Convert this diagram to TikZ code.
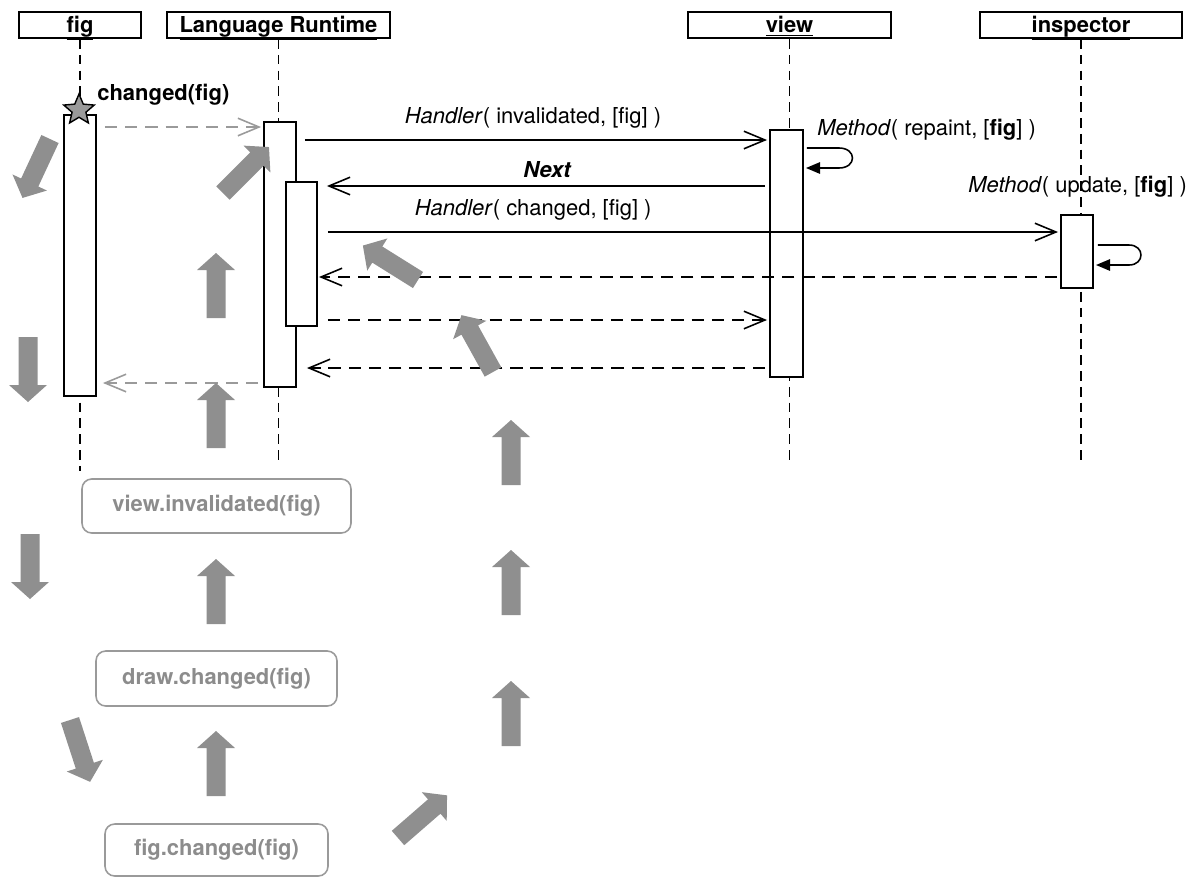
\documentclass[tikz,border=0pt]{standalone}
\usepackage{fontspec}
\setmainfont{TeX Gyre Heros}
\usetikzlibrary{arrows.meta}
\usetikzlibrary{shapes.geometric}

\definecolor{flowgray}{HTML}{8F8F8F}
\definecolor{retgray}{HTML}{9A9A9A}
\definecolor{notegray}{HTML}{8C8C8C}

\begin{document}
\begin{tikzpicture}[x=0.02cm, y=-0.02cm,
    font=\fontsize{12.5}{15}\selectfont,
    head/.style={draw, line width=1.1pt, inner sep=0pt, minimum height=0.52cm,
        text height=11.6pt, text depth=3.1pt,
        font=\fontsize{12.5}{15}\selectfont\bfseries},
    bar/.style={draw, fill=white, line width=1.1pt, inner sep=0pt, minimum width=0.64cm},
    life/.style={line width=0.95pt, dash pattern=on 5.5pt off 3.5pt},
    call/.style={line width=0.9pt, -{Straight Barb[length=12pt,width=10pt]}},
    ret/.style={call, dash pattern=on 7pt off 4.5pt},
    async/.style={ret, retgray},
    self/.style={line width=0.9pt, -{Triangle[length=8pt,width=6.5pt]}},
    lbl/.style={inner sep=0pt, anchor=west},
    note/.style={draw=retgray, text=notegray, rounded corners=5.5pt, line width=0.9pt,
        font=\fontsize{12.5}{15}\selectfont\bfseries},
    flow/.style={fill=flowgray}]
    \useasboundingbox (0,0) rectangle (1199,876);

    % Objects
    \node[head, minimum width=2.44cm] (figHead) at (80,25) {\underline{fig}};
    \node[head, minimum width=4.46cm] (rtHead) at (278.5,25) {\underline{Language Runtime}};
    \node[head, minimum width=4.06cm] (viewHead) at (789.5,25) {\underline{view}};
    \node[head, minimum width=4.04cm] (inspHead) at (1081,25) {\underline{inspector}};

    % Lifelines
    \coordinate (figEnd) at (80,471);
    \coordinate (rtEnd) at (278.5,465);
    \coordinate (viewEnd) at (789.5,462);
    \coordinate (inspEnd) at (1081,462);
    \draw[life] (figHead.south) -- (figEnd);
    \draw[life] (rtHead.south) -- (rtEnd);
    \draw[life] (viewHead.south) -- (viewEnd);
    \draw[life] (inspHead.south) -- (inspEnd);

    % Activations
    \node[bar, minimum height=5.62cm] (figBar) at (80,255.5) {};
    \node[bar, minimum height=5.3cm] (rtBar) at (280,254.5) {};
    \node[bar, minimum height=2.88cm, minimum width=0.62cm] (rtInner) at (301.5,254) {};
    \node[bar, minimum height=4.94cm, minimum width=0.66cm] (viewBar) at (786.5,253.5) {};
    \node[bar, minimum height=1.46cm] (inspBar) at (1077,251.5) {};

    % Trigger
    \node[star, star points=5, star point ratio=2.2, draw, fill=retgray, line width=0.8pt,
        minimum size=0.64cm, inner sep=0pt] (spark) at (79,110) {};
    \node[lbl, font=\fontsize{12.5}{15}\selectfont\bfseries] (sparkLbl) at (97,95) {changed(fig)};

    % Messages
    \draw[async, shorten <=0.16cm, shorten >=0.04cm] (figBar.east |- 0,127) -- (rtBar.west |- 0,127);
    \draw[call, shorten <=0.16cm, shorten >=0.04cm] (rtBar.east |- 0,140) --
        node[midway, above=3pt] {\textit{Handler}( invalidated, [fig] )} (viewBar.west |- 0,140);
    \draw[call, shorten <=0.08cm, shorten >=0.18cm] (viewBar.west |- 0,186) --
        node[midway, above=1pt, xshift=0.08cm] {\textbf{\textit{Next}}} (rtInner.east |- 0,186);
    \draw[call, shorten <=0.2cm, shorten >=0.04cm] (rtInner.east |- 0,232) --
        node[pos=0.29, above=3pt] {\textit{Handler}( changed, [fig] )} (inspBar.west |- 0,232);
    \draw[ret, shorten <=0.06cm, shorten >=0.02cm] (inspBar.west |- 0,277) -- (rtInner.east |- 0,277);
    \draw[ret, shorten <=0.2cm, shorten >=0.04cm] (rtInner.east |- 0,320) -- (viewBar.west |- 0,320);
    \draw[ret, shorten <=0.08cm, shorten >=0.2cm] (viewBar.west |- 0,368) -- (rtBar.east |- 0,368);
    \draw[async, shorten <=0.1cm, shorten >=0.12cm] (rtBar.west |- 0,383) -- (figBar.east |- 0,383);

    % Self calls
    \draw[self, shorten <=0.06cm] (viewBar.east |- 0,148) -- ++(35,0)
        .. controls +(18,0) and +(18,0) .. ++(0,20) -- ++(-33,0);
    \node[lbl] (repaintLbl) at (817,130) {\textit{Method}( repaint, [\textbf{fig}] )};
    \draw[self, shorten <=0.08cm] (inspBar.east |- 0,245) -- ++(35,0)
        .. controls +(16,0) and +(16,0) .. ++(0,20) -- ++(-33,0);
    \node[lbl] (updateLbl) at (968,187) {\textit{Method}( update, [\textbf{fig}] )};

    % Callbacks
    \node[note, minimum width=5.38cm, minimum height=1.08cm] (invNote) at (216.5,506) {view.invalidated(fig)};
    \node[note, minimum width=4.82cm, minimum height=1.1cm] (drawNote) at (216.5,678.5) {draw.changed(fig)};
    \node[note, minimum width=4.46cm, minimum height=1.04cm] (figNote) at (216.5,850) {fig.changed(fig)};

    % Flow arrows
    \foreach \x/\y/\a in {50/139/-115, 223/193/45, 216/318/90, 28/337/-90, 216/448/90,
        418/280/148, 493/372/119, 511/485/90, 511/615/90, 511/746/90, 30/534/-90,
        216/624/90, 70/720/-72, 216/796/90, 398/838/41}
        \fill[flow, shift={(\x,\y)}, rotate=\a]
            (0,-9.5) -- (48,-9.5) -- (48,-19) -- (65,0) -- (48,19) -- (48,9.5) -- (0,9.5) -- cycle;
\end{tikzpicture}
\end{document}
